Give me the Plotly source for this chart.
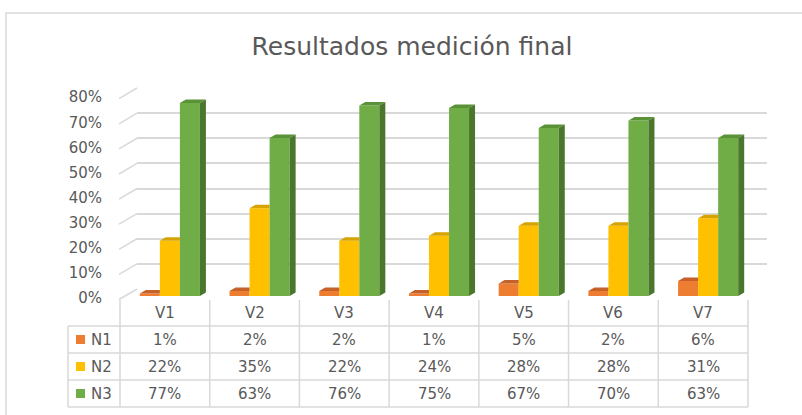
import plotly.graph_objects as go

# ---------------- data ----------------
categories = ["V1", "V2", "V3", "V4", "V5", "V6", "V7"]
series_names = ["N1", "N2", "N3"]
n1_values = [0.01, 0.02, 0.02, 0.01, 0.05, 0.02, 0.06]
n2_values = [0.22, 0.35, 0.22, 0.24, 0.28, 0.28, 0.31]
n3_values = [0.77, 0.63, 0.76, 0.75, 0.67, 0.70, 0.63]
y_tick_values = [0, 0.1, 0.2, 0.3, 0.4, 0.5, 0.6, 0.7, 0.8]
chart_title = "Resultados medición final"

# ---------------- styles ----------------
front_colors = ["#ED7D31", "#FFC000", "#70AD47"]
top_colors = ["#C4622A", "#D6A300", "#5A9237"]
side_colors = ["#A8521F", "#B88C00", "#4A772B"]
text_color = "#595959"
line_color = "#D9D9D9"
FONT = "DejaVu Sans"

W, H = 802, 415
ML, MR, MT, MB = 40, 10, 60, 5
PW, PH = W - ML - MR, H - MT - MB


def fx(px):
    return (px - ML) / PW


def fy(py):
    return (H - MB - py) / PH


n_cat = len(categories)
all_series = [n1_values, n2_values, n3_values]

# pixel geometry of planes
FRONT_X = (120, 748)
FRONT_Y = (298, 97.2)
BACK_X = (137, 767)
BACK_Y = (289, 88)
BAR_X = (125, 753)
BAR_Y = (296, 95.5)
YMAX = 0.8

bargap = 0.33
group_w = 1 - bargap
bar_w = group_w / len(all_series)
cat_px = (BAR_X[1] - BAR_X[0]) / n_cat
val_px = (BAR_Y[0] - BAR_Y[1]) / YMAX
dx = 6 / cat_px
dyv = 3.5 / val_px

fig = go.Figure()

fig.add_trace(go.Scatter(x=[0], y=[0], mode="markers", marker=dict(opacity=0),
                         hoverinfo="skip", showlegend=False, xaxis="x", yaxis="y"))
fig.add_trace(go.Scatter(x=[0], y=[0], mode="markers", marker=dict(opacity=0),
                         hoverinfo="skip", showlegend=False, xaxis="x2", yaxis="y2"))

xs = list(range(n_cat))
for k, (name, vals) in enumerate(zip(series_names, all_series)):
    fig.add_trace(go.Bar(x=xs, y=vals, name=name, marker=dict(color=front_colors[k], line=dict(width=0)),
                         xaxis="x3", yaxis="y3", showlegend=False))

# 3D faces
for k, vals in enumerate(all_series):
    tx, ty, sx, sy = [], [], [], []
    last = (k == len(all_series) - 1)
    for i, v in enumerate(vals):
        x0 = i - group_w / 2 + k * bar_w
        x1 = x0 + bar_w
        if last:
            tx += [x0, x1, x1 + dx, x0 + dx, x0, None]
            ty += [v, v, v + dyv, v + dyv, v, None]
            sx += [x1, x1 + dx, x1 + dx, x1, x1, None]
            sy += [0, dyv, v + dyv, v, 0, None]
        else:
            tx += [x0, x1, x1, x0 + dx, x0, None]
            ty += [v, v, v + dyv, v + dyv, v, None]
    fig.add_trace(go.Scatter(x=tx, y=ty, mode="lines", fill="toself", fillcolor=top_colors[k],
                             line=dict(width=0, color=top_colors[k]), hoverinfo="skip",
                             showlegend=False, xaxis="x3", yaxis="y3"))
    if last:
        fig.add_trace(go.Scatter(x=sx, y=sy, mode="lines", fill="toself", fillcolor=side_colors[k],
                                 line=dict(width=0, color=side_colors[k]), hoverinfo="skip",
                                 showlegend=False, xaxis="x3", yaxis="y3"))

shapes = []
shapes.append(dict(type="rect", xref="paper", yref="paper", x0=fx(6), x1=fx(830), y0=fy(440), y1=fy(13),
                   line=dict(color=line_color, width=1.5), layer="below"))
for t in y_tick_values:
    yf = FRONT_Y[0] - t * (FRONT_Y[0] - FRONT_Y[1]) / YMAX
    yb = BACK_Y[0] - t * (BACK_Y[0] - BACK_Y[1]) / YMAX
    shapes.append(dict(type="line", xref="paper", yref="paper", x0=fx(119), y0=fy(yf + 1.5),
                       x1=fx(BACK_X[0]), y1=fy(yb), line=dict(color=line_color, width=1.5)))

col_px = (FRONT_X[1] - FRONT_X[0]) / n_cat
row_lines = [326, 353, 380, 407]
TABLE_LEFT = 68
for ry in row_lines:
    shapes.append(dict(type="line", xref="paper", yref="paper", x0=fx(TABLE_LEFT), x1=fx(FRONT_X[1]),
                       y0=fy(ry), y1=fy(ry), line=dict(color=line_color, width=1.5)))
for c in range(n_cat + 1):
    px = FRONT_X[0] + c * col_px
    shapes.append(dict(type="line", xref="paper", yref="paper", x0=fx(px), x1=fx(px),
                       y0=fy(300), y1=fy(row_lines[-1]), line=dict(color=line_color, width=1.5)))
shapes.append(dict(type="line", xref="paper", yref="paper", x0=fx(TABLE_LEFT), x1=fx(TABLE_LEFT),
                   y0=fy(row_lines[0]), y1=fy(row_lines[-1]), line=dict(color=line_color, width=1.5)))

annotations = []
hdr_y = 313
TFS = 15
for i, c in enumerate(categories):
    annotations.append(dict(x=i, y=fy(hdr_y), xref="x", yref="paper", text=c, showarrow=False,
                            font=dict(family=FONT, size=TFS, color=text_color), xanchor="center", yanchor="middle"))
for k, (name, vals) in enumerate(zip(series_names, all_series)):
    ry = (row_lines[k] + row_lines[k + 1]) / 2
    shapes.append(dict(type="rect", xref="paper", yref="paper", x0=fx(76), x1=fx(85),
                       y0=fy(ry + 4.5), y1=fy(ry - 4.5), fillcolor=front_colors[k], line=dict(width=0)))
    annotations.append(dict(x=fx(89), y=fy(ry), xref="paper", yref="paper", text=name, showarrow=False,
                            font=dict(family=FONT, size=TFS, color=text_color), xanchor="left", yanchor="middle"))
    for i, v in enumerate(vals):
        annotations.append(dict(x=i, y=fy(ry), xref="x", yref="paper", text=f"{round(v * 100)}%",
                                showarrow=False, font=dict(family=FONT, size=TFS, color=text_color),
                                xanchor="center", yanchor="middle"))

fig.update_layout(
    width=W, height=H,
    margin=dict(l=ML, r=MR, t=MT, b=MB, autoexpand=False),
    paper_bgcolor="white", plot_bgcolor="rgba(0,0,0,0)",
    barmode="group", bargap=bargap, bargroupgap=0,
    title=dict(text=chart_title, x=fx(412), xref="paper", xanchor="center",
               y=1 - 46 / H, yref="container", yanchor="middle", automargin=False,
               font=dict(family=FONT, size=25, color=text_color)),
    xaxis=dict(domain=[fx(FRONT_X[0]), fx(FRONT_X[1])], range=[-0.5, n_cat - 0.5], visible=False,
               automargin=False),
    yaxis=dict(domain=[fy(FRONT_Y[0]), fy(FRONT_Y[1])], range=[0, YMAX], tickvals=y_tick_values,
               tickformat=".0%", showgrid=False, zeroline=False, showline=False, ticks="",
               ticklabelstandoff=17, automargin=False, tickfont=dict(family=FONT, size=15, color=text_color)),
    xaxis2=dict(domain=[fx(BACK_X[0]), fx(BACK_X[1])], range=[-0.5, n_cat - 0.5], visible=False, anchor="y2",
                automargin=False),
    yaxis2=dict(domain=[fy(BACK_Y[0]), fy(BACK_Y[1])], range=[0, YMAX], tickvals=y_tick_values,
                showgrid=True, gridcolor=line_color, gridwidth=1.5, showticklabels=False,
                zeroline=False, showline=False, ticks="", anchor="x2", automargin=False),
    xaxis3=dict(domain=[fx(BAR_X[0]), fx(BAR_X[1])], range=[-0.5, n_cat - 0.5], visible=False, anchor="y3",
                automargin=False),
    yaxis3=dict(domain=[fy(BAR_Y[0]), fy(BAR_Y[1])], range=[0, YMAX], visible=False, anchor="x3",
                automargin=False),
    shapes=shapes, annotations=annotations, showlegend=False,
)

page_fix = (
    "document.documentElement.style.margin='0';"
    "document.body.style.margin='0';"
)
fig.write_html("out.html", config={"displayModeBar": False}, post_script=page_fix)
